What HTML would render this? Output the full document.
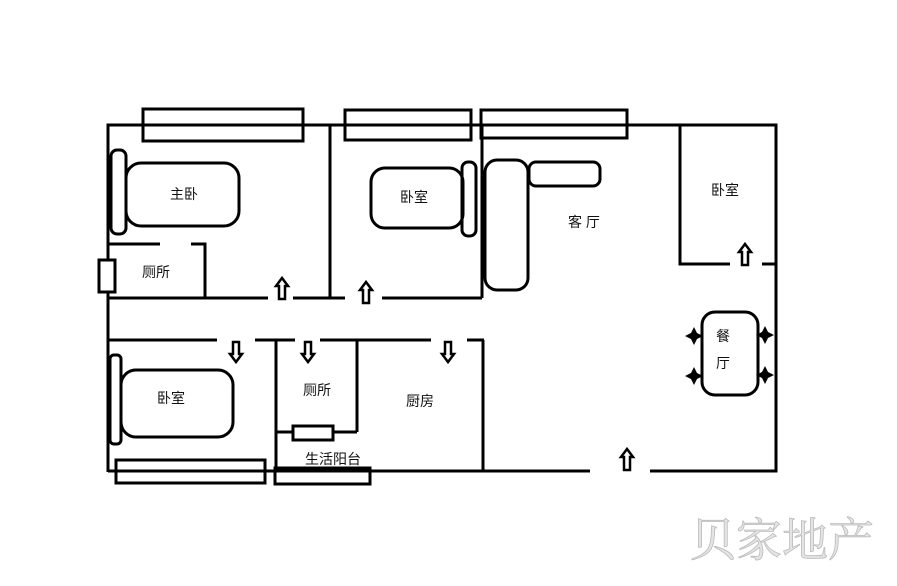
<!DOCTYPE html>
<html><head><meta charset="utf-8"><style>
html,body{margin:0;padding:0;background:#fff;width:897px;height:586px;overflow:hidden}
svg{display:block}
text{font-family:"Liberation Sans","Noto Sans CJK SC",sans-serif;font-size:14px;fill:#111}
</style></head><body>
<svg width="897" height="586" viewBox="0 0 897 586" xmlns="http://www.w3.org/2000/svg">
<defs>
<path id="up" d="M0,-11 L-6,-3 L-3,-3 L-3,10 L3,10 L3,-3 L6,-3 Z" fill="#fff" stroke="#000" stroke-width="2.5"/>
<path id="dn" d="M0,10 L-6,2 L-3,2 L-3,-10 L3,-10 L3,2 L6,2 Z" fill="#fff" stroke="#000" stroke-width="2.5"/>
<path id="ch" d="M0,-9 L3,-3 L9,0 L3,3 L0,9 L-3,3 L-9,0 L-3,-3 Z" fill="#000"/>
</defs>
<g fill="none" stroke="#000" stroke-width="3">
<polyline points="108,472 108,125 776,125 776,471 650,471"/>
<line x1="108" y1="471" x2="590" y2="471"/>
<rect x="143" y="109" width="160" height="32"/>
<rect x="345" y="110" width="126" height="30"/>
<rect x="481" y="110" width="146" height="28"/>
<line x1="330" y1="125" x2="330" y2="299"/>
<line x1="482" y1="125" x2="482" y2="298"/>
<line x1="108" y1="298" x2="268" y2="298"/>
<line x1="293" y1="298" x2="345" y2="298"/>
<line x1="382" y1="298" x2="482" y2="298"/>
<line x1="108" y1="244" x2="160" y2="244"/>
<polyline points="191,244 205,244 205,298"/>
<rect x="99" y="260" width="16" height="32" fill="#fff"/>
<rect x="111" y="150" width="15" height="84" rx="6"/>
<rect x="126" y="163" width="113" height="63" rx="15"/>
<rect x="371" y="168" width="92" height="60" rx="14"/>
<rect x="462" y="162" width="14" height="74" rx="6"/>
<rect x="485" y="160" width="43" height="130" rx="12"/>
<rect x="529" y="162" width="71" height="24" rx="7"/>
<polyline points="680,125 680,264 730,264"/>
<line x1="762" y1="264" x2="776" y2="264"/>
<rect x="702" y="312" width="56" height="83" rx="13"/>
<line x1="108" y1="340" x2="217" y2="340"/>
<line x1="255" y1="340" x2="295" y2="340"/>
<line x1="320" y1="340" x2="431" y2="340"/>
<line x1="467" y1="340" x2="484" y2="340"/>
<line x1="483" y1="340" x2="483" y2="471"/>
<line x1="276" y1="340" x2="276" y2="471"/>
<line x1="357" y1="340" x2="357" y2="432"/>
<line x1="276" y1="432" x2="357" y2="432"/>
<rect x="293" y="426" width="40" height="14" fill="#fff"/>
<rect x="110" y="355" width="11" height="89" rx="4"/>
<rect x="121" y="370" width="112" height="67" rx="15"/>
<rect x="116" y="460" width="149" height="23"/>
<rect x="275" y="468" width="95" height="16"/>
</g>
<use href="#up" x="282" y="289"/>
<use href="#up" x="366" y="293"/>
<use href="#up" x="745" y="255"/>
<use href="#up" x="627" y="460"/>
<use href="#dn" x="236" y="352"/>
<use href="#dn" x="308" y="352"/>
<use href="#dn" x="448" y="352"/>
<use href="#ch" x="694" y="336"/>
<use href="#ch" x="694" y="376"/>
<use href="#ch" x="765" y="335"/>
<use href="#ch" x="765" y="375"/>
<text x="184" y="199" text-anchor="middle">主卧</text>
<text x="414" y="202" text-anchor="middle">卧室</text>
<text x="156" y="277" text-anchor="middle">厕所</text>
<text x="584" y="227" text-anchor="middle">客 厅</text>
<text x="725" y="195" text-anchor="middle">卧室</text>
<text x="723" y="341" text-anchor="middle">餐</text>
<text x="723" y="368" text-anchor="middle">厅</text>
<text x="171" y="403" text-anchor="middle">卧室</text>
<text x="317" y="395" text-anchor="middle">厕所</text>
<text x="420" y="406" text-anchor="middle">厨房</text>
<text x="333" y="464" text-anchor="middle">生活阳台</text>
<text x="782" y="556" text-anchor="middle" style="font-family:'Noto Serif CJK SC',serif;font-size:46px;fill:#e4e4e4;stroke:#bbb;stroke-width:0.8">贝家地产</text>
</svg>
</body></html>
